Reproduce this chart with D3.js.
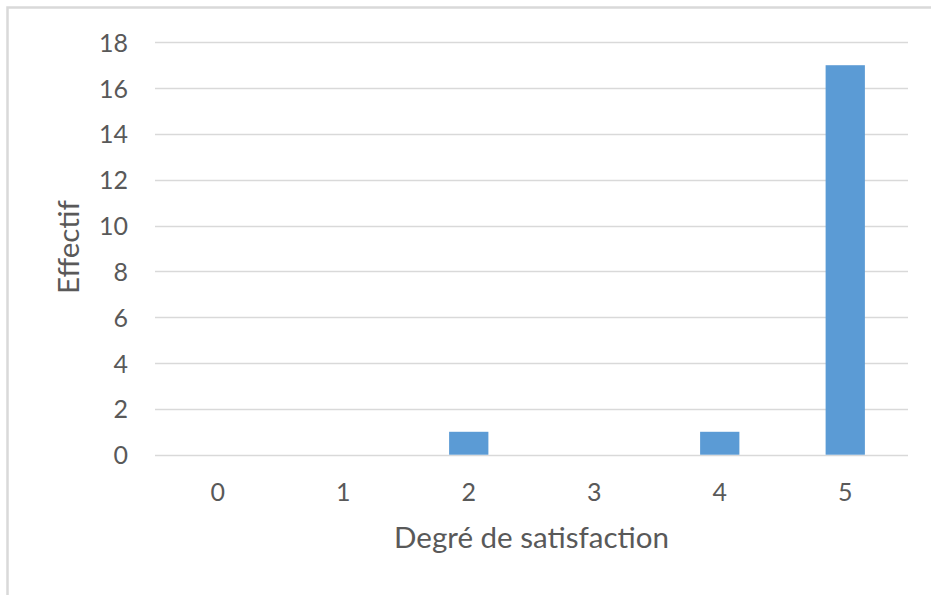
<!DOCTYPE html>
<html><head><meta charset="utf-8">
<script src="https://cdn.jsdelivr.net/npm/d3@7"></script>
<style>body{margin:0;background:#fff}svg{display:block}text{font-family:Lato,"Open Sans",sans-serif;fill:#595959}</style>
</head><body>
<svg id="c" width="931" height="595"></svg>
<script>
const categories = ["0","1","2","3","4","5"];
const values = [0,0,1,0,1,17];
const yTicks = [0,2,4,6,8,10,12,14,16,18];
const xTitle = "Degré de satisfaction";
const yTitle = "Effectif";

const svg = d3.select("#c");
svg.append("rect").attr("width",931).attr("height",595).attr("fill","#fff");
svg.append("rect").attr("x",7.5).attr("y",7.5).attr("width",960).attr("height",640)
  .attr("fill","none").attr("stroke","#d9d9d9").attr("stroke-width",2.5);

const L=155,R=908,T=42.3,B=454.7;
const x = d3.scaleBand().domain(categories).range([L,R]).padding(0);
const y = d3.scaleLinear().domain([0,18]).range([B,T]);

const grid = svg.append("g");
grid.selectAll("line").data(yTicks).join("line")
  .attr("x1",L).attr("x2",R).attr("y1",d=>Math.round(y(d))+0.5).attr("y2",d=>Math.round(y(d))+0.5)
  .attr("stroke","#d9d9d9").attr("stroke-width",1.3);

const yAxis = d3.axisLeft(y).tickValues(yTicks).tickSize(0).tickPadding(0);
const ga = svg.append("g").attr("transform",`translate(128,0)`).call(yAxis);
ga.select(".domain").remove();
ga.selectAll("text").style("font-size","25px").attr("fill","#595959").attr("dy","0.36em").attr("x",0);

const bw = x.bandwidth()*0.313;
svg.append("g").selectAll("rect").data(values.map((v,i)=>({c:categories[i],v}))).join("rect")
  .attr("x",d=>x(d.c)+(x.bandwidth()-bw)/2).attr("width",bw)
  .attr("y",d=>y(d.v)).attr("height",d=>y(0)-y(d.v)).attr("fill","#5b9bd5");

const xAxis = d3.axisBottom(x).tickSize(0).tickPadding(0);
const gx = svg.append("g").attr("transform",`translate(0,492)`).call(xAxis);
gx.select(".domain").remove();
gx.selectAll("text").style("font-size","25px").attr("fill","#595959").attr("dy","0.36em").attr("y",0);

function fit(t,w){ const n=t.node(); const l=n.getComputedTextLength(); const fs=parseFloat(t.style("font-size")); t.style("font-size",(fs*w/l)+"px"); }
const xt = svg.append("text").attr("x",(L+R)/2).attr("y",548).attr("text-anchor","middle").style("font-size","28px").text(xTitle);
fit(xt,275);
const yt = svg.append("text").attr("transform","translate(79,247) rotate(-90)").attr("text-anchor","middle").style("font-size",xt.style("font-size")).text(yTitle);
</script>
</body></html>
